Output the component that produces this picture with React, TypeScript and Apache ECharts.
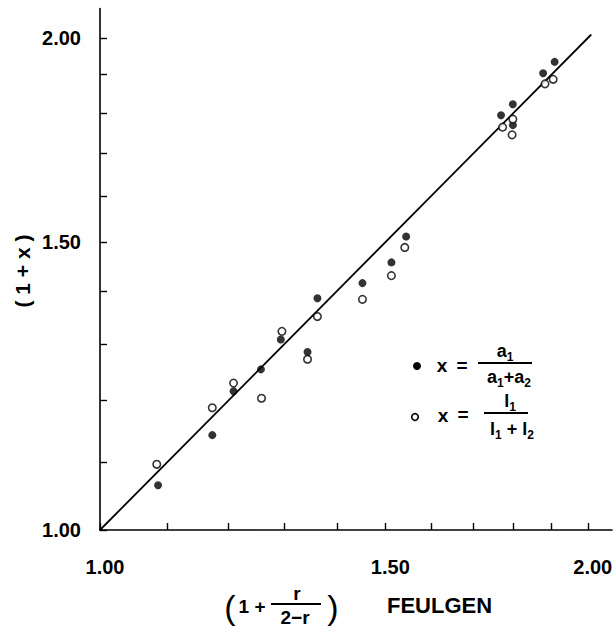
import React, { useEffect, useRef } from "react";
import * as echarts from "echarts";

// Filled circles: x = a1/(a1+a2)
const filledX = [1.086, 1.173, 1.209, 1.257, 1.293, 1.343, 1.362, 1.452, 1.513, 1.545, 1.768, 1.798, 1.798, 1.877, 1.908];
const filledY = [1.065, 1.143, 1.216, 1.254, 1.308, 1.285, 1.386, 1.416, 1.458, 1.512, 1.794, 1.822, 1.769, 1.903, 1.934];
// Open circles: x = l1/(l1+l2)
const openX = [1.084, 1.173, 1.209, 1.258, 1.295, 1.343, 1.362, 1.452, 1.513, 1.542, 1.772, 1.798, 1.796, 1.882, 1.904];
const openY = [1.097, 1.188, 1.23, 1.204, 1.323, 1.272, 1.351, 1.384, 1.431, 1.489, 1.764, 1.784, 1.745, 1.875, 1.887];
// Line of identity
const identityLine = [[1.0, 1.0], [2.01, 2.01]];
const tickValues = [1.0, 1.1, 1.2, 1.3, 1.4, 1.5, 1.6, 1.7, 1.8, 1.9, 2.0];
const labelValues = [1.0, 1.5, 2.0];

const FONT = "Liberation Sans";

export default function App() {
  const ref = useRef<HTMLDivElement>(null);
  useEffect(() => {
    document.body.style.margin = "0";
    if (!ref.current) return;
    const chart = echarts.init(ref.current, undefined, { renderer: "svg" });
    const axisCommon = (labelMargin: number, pad: number[]) => ({
      type: "log" as const,
      logBase: 10,
      min: 1,
      axisLine: { show: true, lineStyle: { color: "#000", width: 1.6 } },
      axisTick: { show: true, inside: true, length: 7, customValues: tickValues, lineStyle: { color: "#000", width: 1.4 } },
      minorTick: { show: false },
      splitLine: { show: false },
      axisLabel: {
        customValues: labelValues,
        formatter: (v: number) => Number(v).toFixed(2),
        color: "#000",
        fontSize: 20,
        fontFamily: FONT,
        fontWeight: "bold",
        margin: labelMargin,
        padding: pad,
      },
    });
    const txt = (x: number, y: number, text: string, fontSize = 18, extra: any = {}) => ({
      type: "text",
      x,
      y,
      style: { text, fontSize, fontFamily: FONT, fontWeight: "bold", fill: "#000", align: "center", verticalAlign: "middle", ...extra },
    });
    const subRich = {
      m: { fontSize: 18, fontFamily: FONT, fontWeight: "bold", lineHeight: 24, verticalAlign: "middle" },
      s: { fontSize: 12, fontFamily: FONT, fontWeight: "bold", lineHeight: 24, verticalAlign: "bottom", padding: [8, 0, 0, 0] },
    };
    const richTxt = (x: number, y: number, text: string) => ({
      type: "text",
      x,
      y,
      style: { text, rich: subRich, fill: "#000", align: "center", verticalAlign: "middle" },
    });
    chart.setOption({
      animation: false,
      backgroundColor: "#fff",
      grid: { left: 100, right: 2, top: 8.5, bottom: 103, containLabel: false, outerBoundsMode: "none" },
      xAxis: { ...axisCommon(27, [0, 0, 0, 10]), max: 2.07 },
      yAxis: { ...axisCommon(19, [0, 0, 0, 0]), max: 2.085 },
      series: [
        {
          type: "line",
          data: identityLine,
          showSymbol: false,
          symbol: "none",
          lineStyle: { color: "#000", width: 1.8 },
          z: 1,
        },
        {
          type: "scatter",
          data: filledX.map((x, i) => [x, filledY[i]]),
          symbol: "circle",
          symbolSize: 8,
          itemStyle: { color: "#000" },
          z: 3,
        },
        {
          type: "scatter",
          data: openX.map((x, i) => [x, openY[i]]),
          symbol: "circle",
          symbolSize: 7.5,
          itemStyle: { color: "#fff", borderColor: "#000", borderWidth: 1.6 },
          z: 3,
        },
      ],
      graphic: [
        // y-axis name
        { ...txt(22, 271, "( 1 + x )", 21), rotation: Math.PI / 2 },
        // x-axis name
        txt(230, 607, "(", 34, { fontWeight: "normal" }),
        txt(252, 606, "1 +", 19),
        txt(297, 593, "r", 19),
        { type: "line", shape: { x1: 271, y1: 604, x2: 321, y2: 604 }, style: { stroke: "#000", lineWidth: 2 } },
        txt(295, 617, "2−r", 19),
        txt(333, 607, ")", 34, { fontWeight: "normal" }),
        txt(387, 605, "FEULGEN", 22, { align: "left" }),
        // legend
        { type: "circle", shape: { cx: 417, cy: 366, r: 4 }, style: { fill: "#000" } },
        txt(442, 365, "x", 19),
        txt(462, 365, "=", 19),
        richTxt(505, 351, "{m|a}{s|1}"),
        { type: "line", shape: { x1: 478, y1: 363, x2: 532, y2: 363 }, style: { stroke: "#000", lineWidth: 2 } },
        richTxt(509, 377, "{m|a}{s|1}{m|+a}{s|2}"),
        { type: "circle", shape: { cx: 415, cy: 417, r: 3.3 }, style: { fill: "#fff", stroke: "#000", lineWidth: 1.6 } },
        txt(443, 415, "x", 19),
        txt(463, 414, "=", 19),
        richTxt(510, 401, "{m|l}{s|1}"),
        { type: "line", shape: { x1: 484, y1: 413, x2: 528, y2: 413 }, style: { stroke: "#000", lineWidth: 2 } },
        richTxt(512, 429, "{m|l}{s|1}{m| + l}{s|2}"),
      ],
    });
    return () => chart.dispose();
  }, []);
  return <div ref={ref} style={{ width: 614, height: 633 }} />;
}
